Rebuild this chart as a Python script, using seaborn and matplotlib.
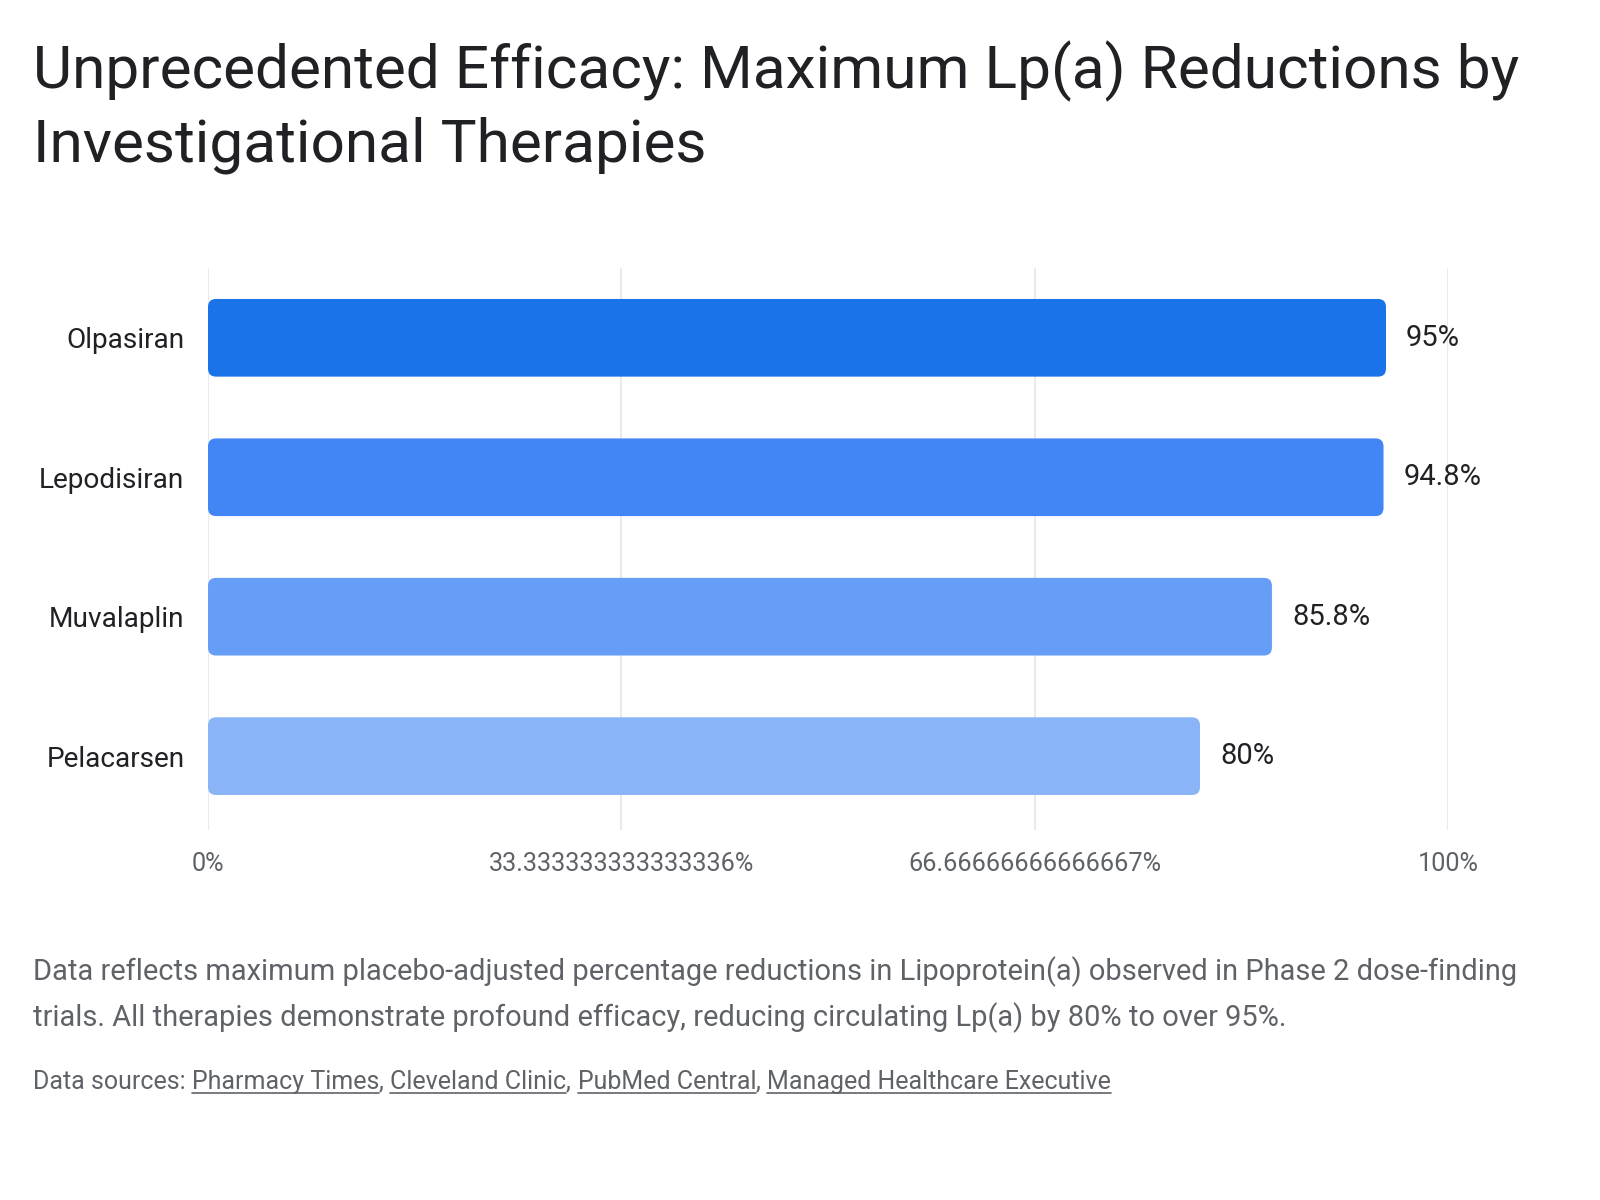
import matplotlib
matplotlib.use("Agg")
import matplotlib.pyplot as plt
from matplotlib.patches import FancyBboxPatch
from matplotlib.lines import Line2D
import seaborn as sns
import pandas as pd

# ---- data ----
therapies = ["Olpasiran", "Lepodisiran", "Muvalaplin", "Pelacarsen"]
reductions = [95.0, 94.8, 85.8, 80.0]
value_labels = ["95%", "94.8%", "85.8%", "80%"]
bar_colors = ["#1A73E8", "#4285F4", "#669DF6", "#8AB4F8"]
tick_values = [0, 100 / 3, 200 / 3, 100]
tick_labels = ["0%", "33.333333333333336%", "66.66666666666667%", "100%"]

title = "Unprecedented Efficacy: Maximum Lp(a) Reductions by\nInvestigational Therapies"
note = ("Data reflects maximum placebo-adjusted percentage reductions in Lipoprotein(a) observed in Phase 2 dose-finding\n"
        "trials. All therapies demonstrate profound efficacy, reducing circulating Lp(a) by 80% to over 95%.")
source_prefix = "Data sources: "
sources = ["Pharmacy Times", "Cleveland Clinic", "PubMed Central", "Managed Healthcare Executive"]

df = pd.DataFrame({"therapy": therapies, "reduction": reductions})

sns.set_theme(style="white")
plt.rcParams["font.family"] = ["Roboto", "DejaVu Sans"]

fig = plt.figure(figsize=(16, 12), dpi=100)
ax = fig.add_axes([0.13, 0.3083, 0.775, 0.4683])

sns.barplot(data=df, x="reduction", y="therapy", hue="therapy", palette=bar_colors,
            legend=False, width=0.557, ax=ax, orient="h", saturation=1)

ax.set_xlim(0, 100)
ax.set_ylim(3.53, -0.5)

# Replace rectangles with rounded bars derived from the drawn patches
px_per_x = (0.775 * 1600) / 100.0
px_per_y = (0.4683 * 1200) / 4.03
r_px = 8
r_x = r_px / px_per_x
aspect = (r_px / px_per_y) / r_x
for p in list(ax.patches):
    x, y = p.get_x(), p.get_y()
    w, h = p.get_width(), p.get_height()
    fc = p.get_facecolor()
    p.set_visible(False)
    fb = FancyBboxPatch((x, y), w, h, boxstyle=f"round,pad=0,rounding_size={r_x}",
                        mutation_aspect=aspect, facecolor=fc, edgecolor="none", zorder=3)
    ax.add_patch(fb)

# value labels
for i, (v, lab) in enumerate(zip(reductions, value_labels)):
    ax.annotate(lab, xy=(v, i), xytext=(20, 0), textcoords="offset pixels",
                ha="left", va="center", fontsize=21, color="#202124")

ax.set_xticks(tick_values)
ax.set_xticklabels(tick_labels)
ax.grid(axis="x", color="#E8EAED", linewidth=1.5, zorder=0)
ax.grid(axis="y", visible=False)
ax.set_axisbelow(True)
for s in ax.spines.values():
    s.set_visible(False)
ax.tick_params(axis="x", length=0, pad=16, labelsize=18.2, labelcolor="#5F6368")
ax.tick_params(axis="y", length=0, pad=17, labelsize=20.2, labelcolor="#202124")
ax.set_xlabel("")
ax.set_ylabel("")

# title
fig.text(0.0206, 0.966, title, ha="left", va="top", fontsize=43.5, color="#202124",
         linespacing=1.31)

# footnote
fig.text(0.0206, 0.171, note, ha="left", va="center", fontsize=20.9, color="#5F6368",
         linespacing=1.65)

# sources with underlined links
fig.canvas.draw()
renderer = fig.canvas.get_renderer()
y_src = 1 - 1082 / 1200
x_cur = 0.0206 * 1600
fs_src = 18
t = fig.text(x_cur / 1600, y_src, source_prefix, ha="left", va="center", fontsize=fs_src, color="#5F6368")
bb = t.get_window_extent(renderer)
x_cur = bb.x1
for k, s in enumerate(sources):
    tt = fig.text(x_cur / 1600, y_src, s, ha="left", va="center", fontsize=fs_src, color="#5F6368")
    b = tt.get_window_extent(renderer)
    uy = (b.y0 + 1) / 1200
    fig.add_artist(Line2D([b.x0 / 1600, b.x1 / 1600], [uy, uy], color="#5F6368", linewidth=1.2,
                          transform=fig.transFigure))
    x_cur = b.x1
    if k < len(sources) - 1:
        tc = fig.text(x_cur / 1600, y_src, ", ", ha="left", va="center", fontsize=fs_src, color="#5F6368")
        x_cur = tc.get_window_extent(renderer).x1

fig.savefig("out.png", dpi=100, facecolor="white")
